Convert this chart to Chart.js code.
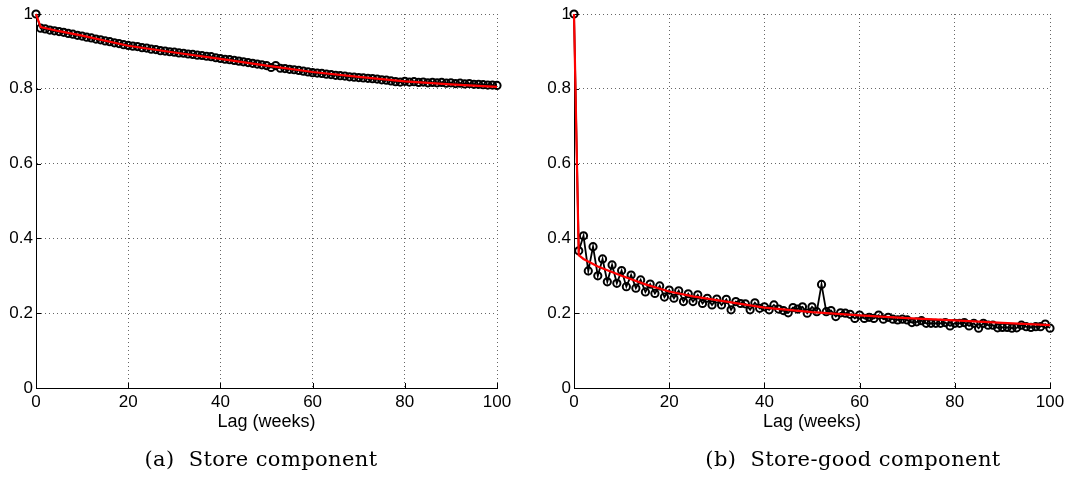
<!DOCTYPE html>
<html>
<head>
<meta charset="utf-8">
<script src="https://cdn.jsdelivr.net/npm/chart.js@4/dist/chart.umd.min.js"></script>
<style>
  html, body { margin:0; padding:0; background:#fff; width:1071px; height:485px; overflow:hidden; }
  .wrap { position:absolute; top:0; height:485px; }
  .cap { position:absolute; top:447px; font-family:"DejaVu Serif", serif; font-size:21px; letter-spacing:0.4px; color:#000; white-space:nowrap; transform:translateX(-50%); }
</style>
</head>
<body>
<div class="wrap" style="left:0;width:535px"><canvas id="ca" width="535" height="485"></canvas></div>
<div class="wrap" style="left:535px;width:536px"><canvas id="cb" width="536" height="485"></canvas></div>
<div class="cap" style="left:261px">(a)&nbsp; Store component</div>
<div class="cap" style="left:853px">(b)&nbsp; Store-good component</div>
<script>
const lags = [0,1,2,3,4,5,6,7,8,9,10,11,12,13,14,15,16,17,18,19,20,21,22,23,24,25,26,27,28,29,30,31,32,33,34,35,36,37,38,39,40,41,42,43,44,45,46,47,48,49,50,51,52,53,54,55,56,57,58,59,60,61,62,63,64,65,66,67,68,69,70,71,72,73,74,75,76,77,78,79,80,81,82,83,84,85,86,87,88,89,90,91,92,93,94,95,96,97,98,99,100];

const storeAcf = [1.000,
 0.962,0.960,0.957,0.955,0.953,0.951,0.948,0.946,0.943,0.941,
 0.938,0.936,0.933,0.931,0.928,0.926,0.923,0.921,0.918,0.916,
 0.914,0.913,0.910,0.909,0.906,0.905,0.902,0.901,0.899,0.898,
 0.896,0.895,0.893,0.892,0.890,0.889,0.887,0.886,0.883,0.881,
 0.879,0.878,0.876,0.874,0.872,0.870,0.868,0.866,0.864,0.862,
 0.857,0.862,0.855,0.854,0.852,0.851,0.849,0.847,0.845,0.843,
 0.842,0.841,0.839,0.838,0.836,0.835,0.834,0.832,0.831,0.830,
 0.829,0.828,0.827,0.826,0.824,0.823,0.821,0.819,0.818,0.820,
 0.818,0.819,0.817,0.818,0.816,0.817,0.816,0.817,0.815,0.816,
 0.814,0.815,0.813,0.814,0.812,0.812,0.811,0.810,0.810,0.809];

const storeGoodAcf = [1.000,
 0.367,0.407,0.313,0.378,0.300,0.345,0.284,0.329,0.280,0.314,
 0.271,0.302,0.267,0.289,0.257,0.278,0.253,0.273,0.243,0.262,
 0.240,0.260,0.231,0.252,0.231,0.249,0.226,0.240,0.222,0.238,
 0.222,0.237,0.209,0.231,0.226,0.225,0.209,0.228,0.213,0.217,
 0.209,0.222,0.211,0.207,0.201,0.215,0.211,0.217,0.200,0.217,
 0.204,0.277,0.204,0.207,0.191,0.201,0.200,0.197,0.186,0.195,
 0.186,0.189,0.186,0.195,0.184,0.189,0.184,0.182,0.184,0.182,
 0.175,0.177,0.180,0.173,0.173,0.173,0.173,0.175,0.166,0.173,
 0.173,0.175,0.166,0.173,0.160,0.173,0.168,0.168,0.161,0.162,
 0.162,0.160,0.161,0.168,0.164,0.162,0.164,0.164,0.171,0.160];

const fitLagsA = [0,1,5,10,20,30,40,50,60,70,80,90,100];
const fitA     = [1.000,0.965,0.954,0.942,0.915,0.897,0.880,0.862,0.845,0.832,0.820,0.812,0.805];

const fitLagsB = [0,1,2,3,5,7,10,15,20,25,30,40,50,60,70,80,90,100];
const fitB     = [1.000,0.355,0.345,0.338,0.325,0.315,0.300,0.277,0.258,0.245,0.235,0.215,0.203,0.194,0.187,0.181,0.174,0.168];

const xTicks = [0,20,40,60,80,100];
const yTicks = [0,0.2,0.4,0.6,0.8,1];
const xTitle = 'Lag (weeks)';

const pts = (xs, ys) => xs.map((x, i) => ({x: x, y: ys[i]}));
const fmt = v => String(Number(v.toFixed(1)));

const inwardTicks = {
  id: 'inwardTicks',
  beforeDatasetsDraw(chart) {
    const ctx = chart.ctx, xs = chart.scales.x, ys = chart.scales.y;
    const a = chart.chartArea;
    ctx.save();
    ctx.strokeStyle = '#000';
    ctx.lineWidth = 1;
    ctx.beginPath();
    xs.ticks.forEach(t => {
      const p = Math.round(xs.getPixelForValue(t.value)) + 0.5;
      ctx.moveTo(p, a.bottom); ctx.lineTo(p, a.bottom - 5);
    });
    ys.ticks.forEach(t => {
      const p = Math.round(ys.getPixelForValue(t.value)) + 0.5;
      ctx.moveTo(a.left, p); ctx.lineTo(a.left + 5, p);
    });
    ctx.stroke();
    ctx.restore();
  }
};

function makeChart(id, acf, fitX, fitY, yAxisWidth, padRight) {
  return new Chart(document.getElementById(id), {
    type: 'line',
    data: {
      datasets: [
        { data: pts(fitX, fitY), borderColor: '#ff0000', borderWidth: 2.2, pointRadius: 0, tension: 0, order: 0, clip: false },
        { data: pts(lags, acf), borderColor: '#000', borderWidth: 1.8, pointRadius: 3.6, pointBorderWidth: 2,
          pointBorderColor: '#000', pointBackgroundColor: 'rgba(0,0,0,0)', pointStyle: 'circle', tension: 0, order: 1, clip: false }
      ]
    },
    options: {
      responsive: false,
      devicePixelRatio: 1,
      animation: false,
      events: [],
      layout: { padding: { top: 14, right: padRight, bottom: 52, left: 0 } },
      plugins: { legend: { display: false }, tooltip: { enabled: false } },
      scales: {
        x: {
          type: 'linear', min: 0, max: 100,
          afterBuildTicks: s => { s.ticks = xTicks.map(v => ({value: v})); },
          afterFit: s => { s.height = 45; },
          grid: { color: 'rgba(0,0,0,0.6)', lineWidth: 1, drawTicks: false },
          border: { display: true, color: '#000', width: 1, dash: [1, 3] },
          ticks: { color: '#000', padding: 4, font: { family: 'Liberation Sans', size: 17 }, maxRotation: 0, callback: v => fmt(v) },
          title: { display: true, text: xTitle, color: '#000', padding: 0, font: { family: 'Liberation Sans', size: 18 } }
        },
        y: {
          type: 'linear', min: 0, max: 1,
          afterBuildTicks: s => { s.ticks = yTicks.map(v => ({value: v})); },
          afterFit: s => { s.width = yAxisWidth; },
          grid: { color: 'rgba(0,0,0,0.6)', lineWidth: 1, drawTicks: false },
          border: { display: true, color: '#000', width: 1, dash: [1, 3] },
          ticks: { color: '#000', padding: 3, font: { family: 'Liberation Sans', size: 17 }, callback: v => fmt(v) }
        }
      }
    },
    plugins: [inwardTicks]
  });
}

makeChart('ca', storeAcf, fitLagsA, fitA, 36, 38);
makeChart('cb', storeGoodAcf, fitLagsB, fitB, 39, 21);
</script>
</body>
</html>
